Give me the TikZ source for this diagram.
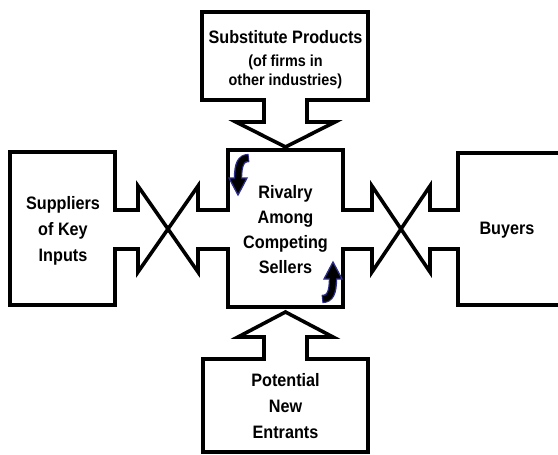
\documentclass[tikz,border=0pt]{standalone}
\usepackage{fontspec}
\setmainfont{Liberation Sans}
\newfontfamily\labelfont[FakeStretch=0.9]{Liberation Sans}
\definecolor{arrowblue}{RGB}{45,45,140}
\begin{document}
\begin{tikzpicture}[x=1pt,y=-1pt,
  outline/.style={line width=3.6pt, line join=miter, draw=black},
  title/.style={font=\labelfont\fontsize{18}{25}\selectfont\bfseries, align=center, inner sep=0pt},
  subtitle/.style={font=\labelfont\fontsize{16}{19}\selectfont\bfseries, align=center, inner sep=0pt},
  shaft/.style={line width=8.4pt, draw=arrowblue},
  core/.style={line width=5.8pt, draw=black},
  head/.style={fill=black, draw=arrowblue, line width=1.3pt, line join=miter},
]
\useasboundingbox (0,0) rectangle (558,455);

% Outline of suppliers, rivalry and buyers boxes with the crossed double arrows
\begin{scope}
  \clip (0,0) rectangle (558,455);
  \draw[outline]
    (570,153) -- (458,153) -- (458,210) -- (430,210) -- (430,186) -- (372,272)
    -- (372,249) -- (343,249) -- (343,307) -- (228,307) -- (228,249) -- (198,249)
    -- (198,272) -- (138,186) -- (138,210) -- (115,210) -- (115,152) -- (10,152)
    -- (10,305) -- (115,305) -- (115,249) -- (138,249) -- (138,272) -- (198,186)
    -- (198,210) -- (228,210) -- (228,150) -- (343,150) -- (343,210) -- (372,210)
    -- (372,186) -- (430,272) -- (430,249) -- (458,249) -- (458,305) -- (570,305);
\end{scope}

% Substitute products box with its arrow pointing down
\draw[outline] (202,12) -- (368,12) -- (368,100) -- (307,100) -- (307,122)
  -- (335,122) -- (285.5,147) -- (236,122) -- (264,122) -- (264,100)
  -- (202,100) -- cycle;

% Potential entrants box with its arrow pointing up
\draw[outline] (203,452) -- (368,452) -- (368,359) -- (307,359) -- (307,337)
  -- (333,337) -- (285.5,312) -- (238,337) -- (264,337) -- (264,359)
  -- (203,359) -- cycle;

% Curved rivalry arrows inside the centre box
\draw[shaft] (249,158) .. controls (241,158) and (238,164) .. (238,179);
\filldraw[head] (229,178) -- (247,178) -- (238,195) -- cycle;
\draw[core] (248,158) .. controls (241,158) and (238,164) .. (238,181);

\draw[shaft] (322,299) .. controls (330,299) and (333,293) .. (333,278);
\filldraw[head] (342,279) -- (324,279) -- (333,262) -- cycle;
\draw[core] (323,299) .. controls (330,299) and (333,293) .. (333,276);

% Labels
\node[title] (sub) at (285.5,37) {Substitute Products};
\node[subtitle] (subnote) at (285.5,72) {(of firms in\\other industries)};
\node[title] (rivalry) at (285.5,230) {Rivalry\\Among\\Competing\\Sellers};
\node[title, font=\labelfont\fontsize{18}{26}\selectfont\bfseries] (suppliers) at (63,231) {Suppliers\\of Key\\Inputs};
\node[title] (buyers) at (507,230) {Buyers};
\node[title, font=\labelfont\fontsize{18}{26}\selectfont\bfseries] (entrants) at (285.5,406) {Potential\\New\\Entrants};
\end{tikzpicture}
\end{document}
